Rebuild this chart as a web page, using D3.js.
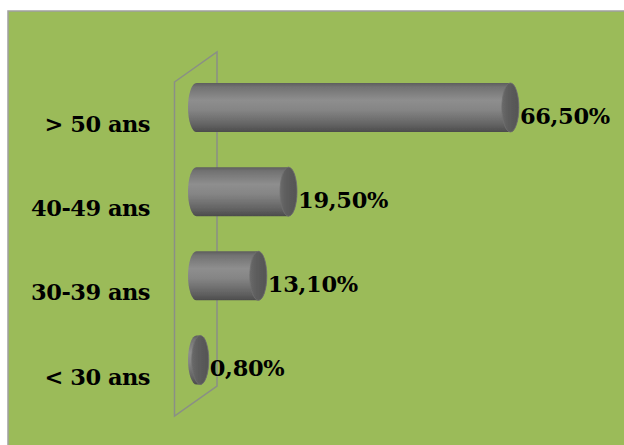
<!DOCTYPE html>
<html><head><meta charset="utf-8">
<script src="https://cdn.jsdelivr.net/npm/d3@7"></script>
<style>html,body{margin:0;padding:0;background:#fff;}svg{display:block;}</style>
</head><body>
<svg id="chart" width="624" height="445"></svg>
<script>
const categories = ["> 50 ans", "40-49 ans", "30-39 ans", "< 30 ans"];
const values = [66.5, 19.5, 13.1, 0.8];

const W = 624, H = 445;
const svg = d3.select("#chart");
const fr = d3.formatLocale({decimal: ",", thousands: " ", grouping: [3], currency: ["", " €"]});
const fmt = v => fr.format(".2f")(v) + "%";

const defs = svg.append("defs");
const g = defs.append("linearGradient").attr("id", "cyl").attr("x1", 0).attr("y1", 0).attr("x2", 0).attr("y2", 1);
[[0, "#5e5e5e"], [0.08, "#727272"], [0.35, "#8e8e8e"], [0.55, "#858585"], [0.85, "#636363"], [1, "#4c4c4c"]]
  .forEach(([o, c]) => g.append("stop").attr("offset", o).attr("stop-color", c));
const gc = defs.append("linearGradient").attr("id", "cap").attr("x1", 0).attr("y1", 0).attr("x2", 1).attr("y2", 0);
[[0, "#6a6a6a"], [0.4, "#5c5c5c"], [1, "#555"]].forEach(([o, c]) => gc.append("stop").attr("offset", o).attr("stop-color", c));
const blur = defs.append("filter").attr("id", "soft").attr("x", "-20%").attr("y", "-20%").attr("width", "140%").attr("height", "140%");
blur.append("feGaussianBlur").attr("stdDeviation", 0.6);

// background
svg.append("rect").attr("x", 0).attr("y", 0).attr("width", W).attr("height", H).attr("fill", "#ffffff");
svg.append("rect").attr("x", 8).attr("y", 11).attr("width", W - 8).attr("height", H - 11).attr("fill", "#9BBB59");
svg.append("path").attr("d", `M8,${H} L8,11 L${W},11`).attr("fill", "none").attr("stroke", "#a0a0a0").attr("stroke-width", 1.5);

// scales
const x = d3.scaleLinear().domain([0, 100]).range([196.5, 668.5]);
const y = d3.scalePoint().domain(categories).range([107.5, 360]);
const barH = 49, rx = 8.5, ry = barH / 2;

// back wall (3D plane)
const wall = {fx: 174.5, bx: 217, ft: 82, bt: 52, fb: 416, bb: 386};
svg.append("path")
  .attr("d", `M${wall.fx},${wall.ft} L${wall.bx},${wall.bt} L${wall.bx},${wall.bb} L${wall.fx},${wall.fb} Z`)
  .attr("fill", "none").attr("stroke", "#8a8f86").attr("stroke-width", 1.5);

// cylinders
const bars = svg.append("g");
categories.forEach((c, i) => {
  const cy = y(c), x0 = x(0), x1 = x(values[i]);
  const t = cy - ry, b = cy + ry;
  const gg = bars.append("g").attr("filter", "url(#soft)");
  gg.append("path")
    .attr("d", `M${x0},${t} L${x1},${t} A${rx},${ry} 0 0 1 ${x1},${b} L${x0},${b} A${rx},${ry} 0 0 1 ${x0},${t} Z`)
    .attr("fill", "url(#cyl)");
  gg.append("ellipse").attr("cx", x1).attr("cy", cy).attr("rx", rx).attr("ry", ry)
    .attr("fill", "url(#cap)").attr("stroke", "#707070").attr("stroke-width", 0.8);
});

// category labels
const font = "'DejaVu Serif', serif";
svg.append("g").selectAll("text").data(categories).join("text")
  .attr("x", 150).attr("y", d => y(d) + 24.5)
  .attr("text-anchor", "end")
  .attr("font-family", font).attr("font-weight", "bold").attr("font-size", 22.5)
  .attr("letter-spacing", -0.5)
  .attr("fill", "#000").text(d => d);

// value labels
svg.append("g").selectAll("text").data(values).join("text")
  .attr("x", v => x(v) + rx + 1).attr("y", (v, i) => y(categories[i]) + 16)
  .attr("font-family", font).attr("font-weight", "bold").attr("font-size", 22.5)
  .attr("letter-spacing", -0.3)
  .attr("fill", "#000").text(v => fmt(v));
</script>
</body></html>
